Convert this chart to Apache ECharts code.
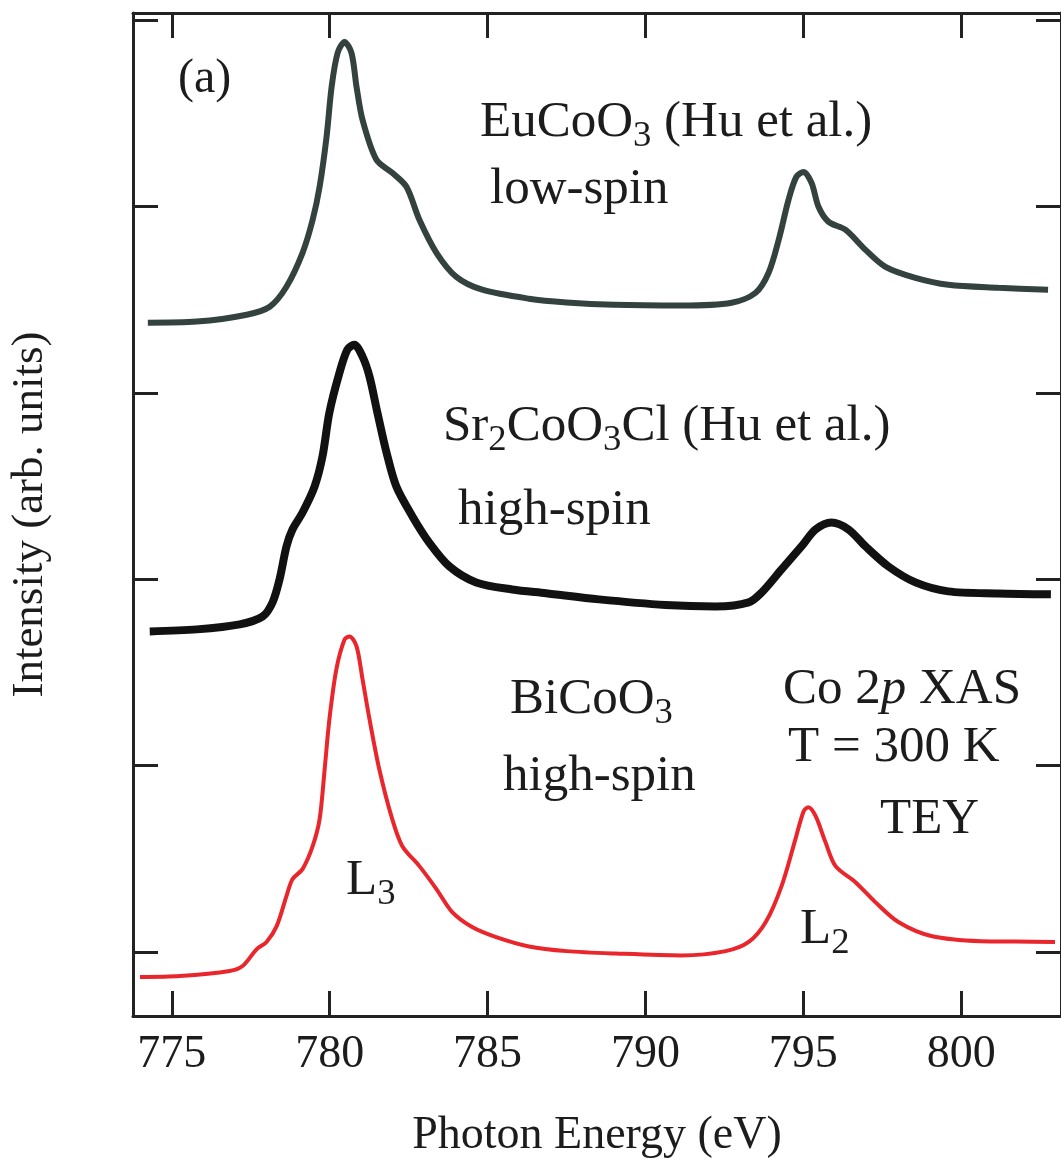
<!DOCTYPE html>
<html>
<head>
<meta charset="utf-8">
<script src="https://cdn.jsdelivr.net/npm/echarts@6/dist/echarts.min.js"></script>
<style>
html,body{margin:0;padding:0;background:#fff;}
#chart{width:1061px;height:1164px;}
</style>
</head>
<body>
<div id="chart"></div>
<script>
// ---- data (photon energy in eV, intensity in arb. units, offset stacked) ----
const xTicks = [775, 780, 785, 790, 795, 800];
const yTicks = [0, 1, 2, 3, 4, 5];

const eucoE = [774.24,775.79,777.37,778.10,778.63,779.14,779.46,779.68,779.90,780.06,780.25,780.47,780.69,780.85,781.04,781.48,781.98,782.43,782.84,783.38,784.01,784.83,786.31,787.50,789.00,791.15,792.73,793.49,793.90,794.22,794.53,794.78,795.01,795.26,795.48,795.80,796.33,796.97,797.60,798.55,799.59,801.17,802.75];
const eucoI = [3.376,3.382,3.419,3.462,3.569,3.751,3.928,4.105,4.373,4.641,4.823,4.882,4.823,4.641,4.464,4.250,4.180,4.105,3.928,3.751,3.622,3.553,3.505,3.485,3.472,3.468,3.483,3.537,3.644,3.821,4.035,4.159,4.185,4.126,3.998,3.917,3.875,3.767,3.676,3.617,3.580,3.564,3.553];

const srE = [774.30,775.79,777.15,777.88,778.19,778.41,778.63,778.82,779.14,779.52,779.77,779.99,780.31,780.56,780.78,781.04,781.26,781.51,781.80,782.11,782.62,783.15,783.79,784.64,785.78,786.85,788.53,790.64,792.22,793.27,793.68,794.31,794.94,795.39,795.89,796.43,796.97,797.69,798.55,799.59,801.17,802.84];
const srI = [1.720,1.731,1.758,1.801,1.876,1.999,2.176,2.267,2.358,2.497,2.658,2.894,3.108,3.232,3.258,3.194,3.087,2.894,2.679,2.497,2.337,2.197,2.069,1.983,1.945,1.925,1.892,1.862,1.854,1.876,1.929,2.053,2.176,2.267,2.304,2.267,2.176,2.069,1.983,1.935,1.924,1.919];

const biE = [773.99,775.25,776.83,777.24,777.69,778.00,778.32,778.63,778.82,779.14,779.46,779.68,779.84,779.99,780.21,780.47,780.63,780.85,781.04,781.26,781.57,781.98,782.30,782.84,783.38,783.88,784.51,785.27,786.31,787.50,789.06,791.15,792.54,793.27,793.81,794.31,794.75,795.01,795.16,795.39,795.70,796.02,796.65,797.28,798.01,799.05,800.63,801.71,802.97];
const biI = [-0.134,-0.129,-0.102,-0.075,0.016,0.054,0.139,0.300,0.391,0.445,0.568,0.713,0.981,1.249,1.517,1.677,1.693,1.640,1.463,1.249,0.981,0.713,0.568,0.461,0.338,0.214,0.134,0.080,0.030,0.005,-0.008,-0.018,0.005,0.054,0.161,0.354,0.606,0.756,0.777,0.729,0.590,0.461,0.375,0.268,0.161,0.086,0.058,0.056,0.054];

const zip = (a, b) => a.map((v, i) => [v, b[i]]);

const SERIF = '"Liberation Serif", "DejaVu Serif", serif';
const INK = '#1c1c1c';

const chart = echarts.init(document.getElementById('chart'), null, {renderer: 'canvas'});

const axisLineStyle = {color: '#222', width: 3};
const tickStyle = {color: '#222', width: 3};

function ann(x, y, parts, size) {
  const text = parts.map(p => '{' + p[1] + '|' + p[0] + '}').join('');
  return {
    type: 'text', x: x, y: y, z: 100,
    style: {
      text: text,
      textAlign: 'left', textVerticalAlign: 'middle',
      rich: {
        n: {fontFamily: SERIF, fontSize: size, lineHeight: size * 1.25, fill: INK, color: INK},
        i: {fontFamily: SERIF, fontSize: size, fontStyle: 'italic', lineHeight: size * 1.25, fill: INK, color: INK},
        s: {fontFamily: SERIF, fontSize: size * 0.72, lineHeight: size * 0.72, verticalAlign: 'bottom', fill: INK, color: INK}
      }
    }
  };
}

const F = 51;
const option = {
  backgroundColor: '#ffffff',
  animation: false,
  grid: {left: 133, right: -2, top: 13, bottom: 147, containLabel: false},
  xAxis: [{
    type: 'value', min: 773.77, max: 803.16, position: 'bottom',
    name: 'Photon Energy (eV)', nameLocation: 'middle', nameGap: 97,
    nameTextStyle: {fontFamily: SERIF, fontSize: 46, color: INK},
    axisLine: {show: true, onZero: false, lineStyle: axisLineStyle},
    axisTick: {show: true, inside: true, length: 25, lineStyle: tickStyle, customValues: xTicks},
    axisLabel: {show: true, margin: 16, fontFamily: SERIF, fontSize: 46, color: INK, customValues: xTicks},
    splitLine: {show: false}
  }, {
    type: 'value', min: 773.77, max: 803.16, position: 'top',
    axisLine: {show: true, onZero: false, lineStyle: axisLineStyle},
    axisTick: {show: true, inside: true, length: 25, lineStyle: tickStyle, customValues: xTicks},
    axisLabel: {show: false},
    splitLine: {show: false}
  }],
  yAxis: [{
    type: 'value', min: -0.343, max: 5.0375, position: 'left',
    name: 'Intensity (arb. units)', nameLocation: 'middle', nameGap: 80, nameRotate: 90,
    nameTextStyle: {fontFamily: SERIF, fontSize: 45, color: INK},
    axisLine: {show: true, onZero: false, lineStyle: axisLineStyle},
    axisTick: {show: true, inside: true, length: 25, lineStyle: tickStyle, customValues: yTicks},
    axisLabel: {show: false},
    splitLine: {show: false}
  }, {
    type: 'value', min: -0.343, max: 5.0375, position: 'right',
    axisLine: {show: true, onZero: false, lineStyle: axisLineStyle},
    axisTick: {show: true, inside: true, length: 25, lineStyle: tickStyle, customValues: yTicks},
    axisLabel: {show: false},
    splitLine: {show: false}
  }],
  series: [
    {name: 'EuCoO3', type: 'line', data: zip(eucoE, eucoI), showSymbol: false, smooth: 0.3,
     lineStyle: {color: '#34423f', width: 6}, z: 3},
    {name: 'Sr2CoO3Cl', type: 'line', data: zip(srE, srI), showSymbol: false, smooth: 0.3,
     lineStyle: {color: '#111111', width: 8}, z: 3},
    {name: 'BiCoO3', type: 'line', data: zip(biE, biI), showSymbol: false, smooth: 0.3,
     lineStyle: {color: '#e8262b', width: 4}, z: 4}
  ],
  graphic: [
    ann(178, 79, [['(a)', 'n']], 48),
    ann(480, 123, [['EuCoO', 'n'], ['3', 's'], [' (Hu et al.)', 'n']], F),
    ann(490, 190, [['low-spin', 'n']], F),
    ann(443, 427, [['Sr', 'n'], ['2', 's'], ['CoO', 'n'], ['3', 's'], ['Cl (Hu et al.)', 'n']], F),
    ann(458, 511, [['high-spin', 'n']], F),
    ann(510, 700, [['BiCoO', 'n'], ['3', 's']], F),
    ann(503, 777, [['high-spin', 'n']], F),
    ann(783, 690, [['Co 2', 'n'], ['p', 'i'], [' XAS', 'n']], F),
    ann(788, 748, [['T = 300 K', 'n']], F),
    ann(880, 820, [['TEY', 'n']], F),
    ann(346, 881, [['L', 'n'], ['3', 's']], F),
    ann(800, 930, [['L', 'n'], ['2', 's']], F)
  ]
};
chart.setOption(option);
</script>
</body>
</html>
